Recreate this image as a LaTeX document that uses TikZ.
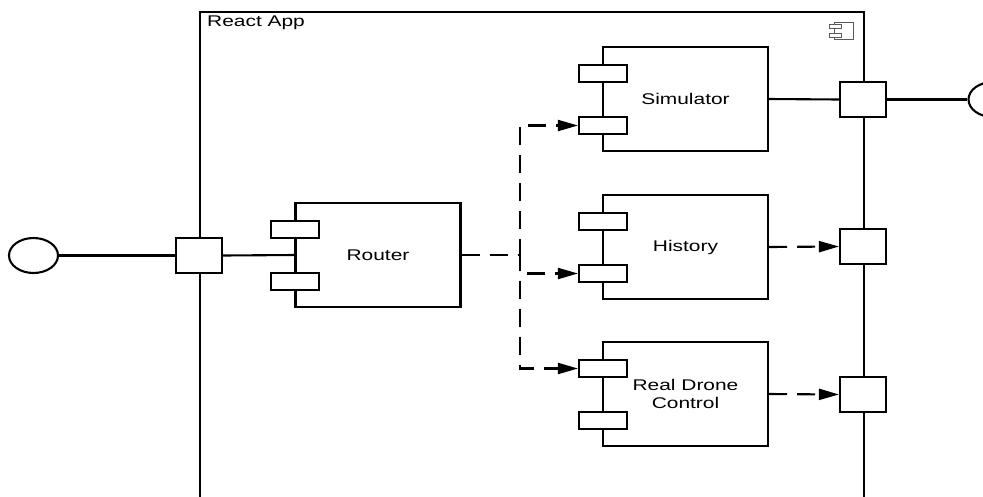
\documentclass[tikz,border=0pt]{standalone}
\usepackage{fontspec}
\newfontfamily\lab[FakeStretch=1.35]{Liberation Sans}
\usetikzlibrary{arrows.meta,positioning,shapes.geometric}
\tikzset{
  ln/.style={line width=2.1pt, draw=black},
  compbox/.style={ln, rectangle, minimum width=165pt, minimum height=104pt, inner sep=0pt, font=\lab\fontsize{15.5}{18.5}\selectfont, align=center},
  tab/.style={ln, rectangle, fill=white, minimum width=48pt, minimum height=17.5pt, inner sep=0pt},
  portbox/.style={ln, rectangle, fill=white, minimum width=46pt, minimum height=35pt, inner sep=0pt},
  iface/.style={ln, ellipse, fill=white, minimum width=49pt, minimum height=35pt, inner sep=0pt},
  dep/.style={ln, dash pattern=on 18pt off 10pt, -{Triangle[length=20pt,width=11pt]}},
}
\begin{document}
\begin{tikzpicture}[x=1pt,y=-1pt]
\clip (0,0) rectangle (983,496);
\fill[white] (0,0) rectangle (983,496);
% frame
\coordinate (fbl) at (200,500);
\coordinate (ftl) at (200,12);
\coordinate (ftr) at (864,12);
\coordinate (fbr) at (864,500);
\draw[ln] (fbl) -- (ftl) -- (ftr) -- (fbr);
\node[anchor=north west, inner sep=0pt, font=\lab\fontsize{15.5}{18.5}\selectfont] (title) at (207,16) {React App};
% component icon
\draw[gray!70!black, line width=1pt] (834,22) rectangle (853,39);
\draw[gray!70!black, line width=1pt, fill=white] (829,24) rectangle (841,28);
\draw[gray!70!black, line width=1pt, fill=white] (829,33) rectangle (841,37);

% components
\node[compbox] (router) at (378,255) {Router};
\node[tab] (rt1) at (295,229.5) {};
\node[tab] (rt2) at (295,281.5) {};

\node[compbox] (sim) at (685.5,99) {Simulator};
\node[tab] (st1) at (603,73.5) {};
\node[tab] (st2) at (603,125.5) {};

\node[compbox] (hist) at (685.5,247) {History};
\node[tab] (ht1) at (603,221.5) {};
\node[tab] (ht2) at (603,273.5) {};

\node[compbox] (rdc) at (685.5,394) {Real Drone\\Control};
\node[tab] (dt1) at (603,368.5) {};
\node[tab] (dt2) at (603,420.5) {};

% ports
\node[portbox] (lp) at (199,255.5) {};
\node[portbox] (p1) at (863,99.5) {};
\node[portbox] (p2) at (863,246.5) {};
\node[portbox] (p3) at (863,394.5) {};

% interfaces
\node[iface] (lc) at (33.5,255.5) {};
\node[iface] (rc) at (993,99.5) {};

% solid connectors
\draw[ln] (lc.east) -- (lp.west);
\draw[ln] (lp.east) -- (router.west);
\draw[ln] (sim.east) -- (p1.west);
\draw[ln] (p1.east) -- (rc.west);

% dashed dependencies
\coordinate (j) at (520,255);
\draw[dep] (router.east) -- (j) |- (st2.west);
\draw[dep] (router.east) -- (j) |- (ht2.west);
\draw[dep] (router.east) -- (j) |- (dt1.west);
\draw[dep] (hist.east) -- (p2.west);
\draw[dep] (rdc.east) -- (p3.west);
\end{tikzpicture}
\end{document}
